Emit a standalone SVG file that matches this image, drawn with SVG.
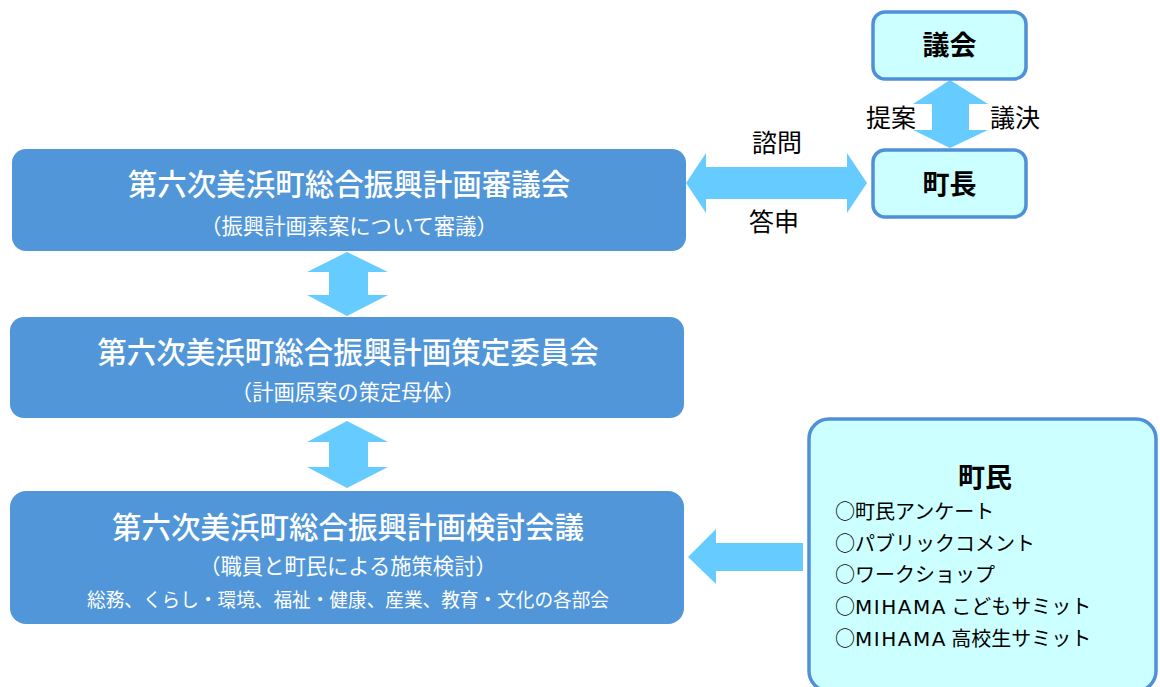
<svg xmlns="http://www.w3.org/2000/svg" width="1160" height="687" viewBox="0 0 1160 687">
<style>
.main{fill:#5096d8}
.lite{fill:#ccffff;stroke:#5090d8;stroke-width:3.5}
.arr{fill:#66ccff}
.t{font-family:"Noto Sans CJK JP","Noto Sans",sans-serif;text-anchor:middle}
.wt{fill:#fff;font-size:29.5px;font-weight:500}
.ws{fill:#fff;font-size:21.3px}
.w3{fill:#fff;font-size:19.5px}
.bk{fill:#000;font-size:27px;font-weight:bold}
.lb{fill:#000;font-size:25px}
.li{font-family:"Noto Sans CJK JP","Noto Sans",sans-serif;fill:#000;font-size:20px}
.lat{font-family:"DejaVu Sans",sans-serif;letter-spacing:1.5px}
</style>
<rect width="1160" height="687" fill="#fff"/>
<g id="connectors">
<polygon class="arr" points="686,183 706,153 706,167 847,167 847,153 867,183 847,213 847,199 706,199 706,213"/>
<polygon class="arr" points="950,80 988,104 969,104 969,130 988,130 950,148 913,130 932,130 932,104 913,104"/>
<polygon class="arr" points="347,252 388,272 368,272 368,295 388,295 347,316 307,295 329,295 329,272 307,272"/>
<polygon class="arr" points="347,421 388,442 368,442 368,467 388,467 347,488 307,467 329,467 329,442 307,442"/>
<polygon class="arr" points="688,557 716,529 716,543 803,543 803,571 716,571 716,584"/>
<text class="t lb" x="777" y="152">諮問</text>
<text class="t lb" x="774" y="231">答申</text>
<text class="t lb" x="891" y="127">提案</text>
<text class="t lb" x="1015" y="127">議決</text>
</g>
<g id="shingikai">
<rect class="main" x="12" y="149" width="674" height="102" rx="14"/>
<text class="t wt" x="349" y="195">第六次美浜町総合振興計画審議会</text>
<text class="t ws" x="349" y="234">（振興計画素案について審議）</text>
</g>
<g id="sakutei">
<rect class="main" x="10" y="317" width="674" height="101" rx="14"/>
<text class="t wt" x="348" y="363">第六次美浜町総合振興計画策定委員会</text>
<text class="t ws" x="348" y="400">（計画原案の策定母体）</text>
</g>
<g id="kento">
<rect class="main" x="10" y="491" width="674" height="133" rx="16"/>
<text class="t wt" x="348" y="538">第六次美浜町総合振興計画検討会議</text>
<text class="t ws" x="348" y="574">（職員と町民による施策検討）</text>
<text class="t w3" x="348" y="607" textLength="522" lengthAdjust="spacingAndGlyphs">総務、くらし・環境、福祉・健康、産業、教育・文化の各部会</text>
</g>
<g id="gikai">
<rect class="lite" x="873" y="12" width="153" height="67" rx="12"/>
<text class="t bk" x="949.5" y="55">議会</text>
</g>
<g id="chocho">
<rect class="lite" x="873" y="150" width="153" height="67" rx="12"/>
<text class="t bk" x="949.5" y="194">町長</text>
</g>
<g id="chomin">
<rect class="lite" x="809" y="419" width="347" height="272" rx="20"/>
<text class="t bk" x="985" y="487">町民</text>
<text class="li" x="835" y="519">○町民アンケート</text>
<text class="li" x="835" y="551">○パブリックコメント</text>
<text class="li" x="835" y="582">○ワークショップ</text>
<text class="li" x="835" y="614">○<tspan class="lat">MIHAMA</tspan> こどもサミット</text>
<text class="li" x="835" y="646">○<tspan class="lat">MIHAMA</tspan> 高校生サミット</text>
</g>
</svg>
